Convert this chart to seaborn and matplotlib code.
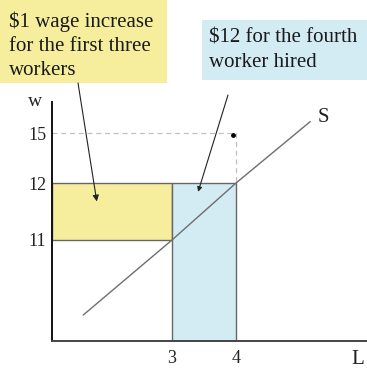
import numpy as np
import matplotlib
matplotlib.use("Agg")
import matplotlib.pyplot as plt
from matplotlib.patches import Rectangle
import seaborn as sns

# Labour-market data (L = workers, w = wage)
supply_L = [0.78, 3, 4, 5.17]
supply_w = [2.8, 11, 12, 15.7]
old_workers = 3
new_worker = 4
old_wage = 11
new_wage = 12
reservation_wage = 15
x_ticks = [3, 4]
y_ticks = [11, 12, 15]

sns.set_theme(style="white")
plt.rcParams["font.family"] = ["Liberation Serif", "DejaVu Serif"]

W, H = 367, 370
fig = plt.figure(figsize=(W / 100, H / 100), dpi=100)
ax = fig.add_axes([52 / W, 29.3 / H, 315 / W, 238.7 / H])

# schematic (piecewise-linear) scales for the diagram
x_knots = [-10, 0, 3, 4, 10]
x_pix = [-400, 0, 120, 183.7, 183.7 + 6 * 63.7]
y_knots = [-10, 0, 11, 12, 15, 30]
y_pix = [-91.5, 0, 100.7, 157.4, 207.4, 207.4 + 15 * 16.7]

ax.set_xscale("function", functions=(lambda v: np.interp(v, x_knots, x_pix),
                                     lambda p: np.interp(p, x_pix, x_knots)))
ax.set_yscale("function", functions=(lambda v: np.interp(v, y_knots, y_pix),
                                     lambda p: np.interp(p, y_pix, y_knots)))

edge = "#666666"
# wage increase paid to the first three workers
ax.bar(0, new_wage - old_wage, width=old_workers, bottom=old_wage, align="edge",
       color="#F6EE9C", edgecolor=edge, linewidth=1.0, zorder=1)
# wage paid to the fourth worker
ax.bar(old_workers, new_wage, width=new_worker - old_workers, bottom=0, align="edge",
       color="#D3EBF3", edgecolor=edge, linewidth=1.0, zorder=1)

# reservation wage guide lines
ax.plot([0, new_worker, new_worker], [reservation_wage, reservation_wage, new_wage],
        linestyle=(0, (4, 3)), color="#C8BDBD", linewidth=0.9, zorder=2)
ax.scatter([3.95], [14.9], s=6, color="black", zorder=4)

# supply curve
sns.lineplot(x=supply_L, y=supply_w, ax=ax, color="#6E6E6E", linewidth=1.0,
             sort=False, estimator=None, zorder=3)

ax.set_xlim(0, 4 + (315 - 183.7) / 63.7)
ax.set_ylim(0, 15 + 31.3 / 16.7)
ax.set_xticks(x_ticks)
ax.set_yticks(y_ticks)
ax.set_xticklabels([str(t) for t in x_ticks])
ax.set_yticklabels([str(t) for t in y_ticks])
ax.tick_params(axis="both", length=0, labelsize=13, colors="#222222")
ax.tick_params(axis="x", pad=7)
ax.tick_params(axis="y", pad=4)
for side in ("top", "right"):
    ax.spines[side].set_visible(False)
ax.spines["left"].set_color("#111111")
ax.spines["bottom"].set_color("#444444")
ax.spines["left"].set_linewidth(1.4)
ax.spines["bottom"].set_linewidth(1.4)
ax.set_xlabel("")
ax.set_ylabel("")

# axis names and curve label
fig.text(35 / W, 1 - 101 / H, "w", ha="center", va="center", fontsize=14, color="#222222")
fig.text(358 / W, 1 - 360 / H, "L", ha="center", va="center", fontsize=15, color="#222222")
fig.text(323 / W, 1 - 117 / H, "S", ha="center", va="center", fontsize=15, color="#222222")

# callout boxes
fig.add_artist(Rectangle((0, 1 - 83 / H), 167 / W, 83 / H, transform=fig.transFigure,
                         facecolor="#F6EE9C", edgecolor="none", zorder=0))
fig.text(9 / W, 1 - 11 / H, "$1 wage increase\nfor the first three\nworkers",
         ha="left", va="top", fontsize=15, linespacing=1.36, color="#1a1a1a")

fig.add_artist(Rectangle((201.7 / W, 1 - 80 / H), (W - 201.7) / W, 60 / H,
                         transform=fig.transFigure, facecolor="#D3EBF3",
                         edgecolor="none", zorder=0))
fig.text(209 / W, 1 - 29 / H, "$12 for the fourth\nworker hired",
         ha="left", va="top", fontsize=15, linespacing=1.36, color="#1a1a1a")

# arrows from the callouts to the shaded areas
ax.annotate("", xy=(1.12, 11.68), xytext=(78, H - 83), textcoords="figure pixels",
            arrowprops=dict(arrowstyle="-|>", color="#222222", lw=0.8,
                            mutation_scale=9, shrinkA=0, shrinkB=0))
ax.annotate("", xy=(3.41, 11.85), xytext=(228, H - 95), textcoords="figure pixels",
            arrowprops=dict(arrowstyle="-|>", color="#222222", lw=0.8,
                            mutation_scale=7, shrinkA=0, shrinkB=0))

fig.savefig("out.png", dpi=100)
